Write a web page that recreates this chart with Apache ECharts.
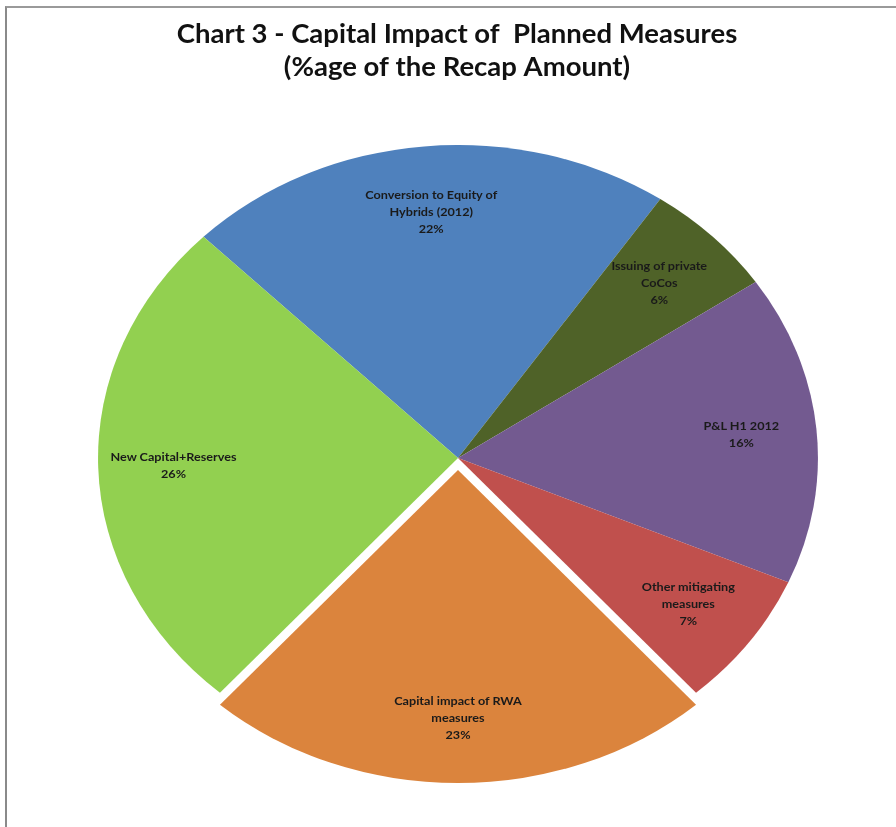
<!DOCTYPE html>
<html>
<head>
<meta charset="utf-8">
<script src="https://cdn.jsdelivr.net/npm/echarts@6/dist/echarts.min.js"></script>
<style>
  html, body { margin: 0; padding: 0; background: #ffffff; }
  #wrap { position: relative; width: 896px; height: 827px; overflow: hidden; background: #fff; }
  #frame { position: absolute; left: 5px; top: 6px; width: 895px; height: 825px;
           border-top: 2px solid #9a9a9a; border-left: 2px solid #8a8a8a; box-sizing: border-box; }
  #titleChart { position: absolute; left: 9px; top: 0; width: 896px; height: 120px; }
  #pieChart { position: absolute; left: 108px; top: 108px; width: 700px; height: 700px;
              transform: scaleX(1.15); transform-origin: 350px 350px; }
</style>
</head>
<body>
<div id="wrap">
  <div id="frame"></div>
  <div id="titleChart"></div>
  <div id="pieChart"></div>
</div>
<script>
// ---- data ----
const titleLines = ['Chart 3 - Capital Impact of  Planned Measures', '(%age of the Recap Amount)'];
const categories = [
  'Conversion to Equity of\nHybrids (2012)',
  'Issuing of private\nCoCos',
  'P&L H1 2012',
  'Other mitigating\nmeasures',
  'Capital impact of RWA\nmeasures',
  'New Capital+Reserves'
];
const values = [22, 6, 16, 7, 23, 26];
const colors = ['#4F81BD', '#4F6228', '#735A90', '#C0504D', '#DB843D', '#92D050'];
const explodedCategory = 'Capital impact of RWA\nmeasures';

// ---- title chart ----
const tChart = echarts.init(document.getElementById('titleChart'));
tChart.setOption({
  animation: false,
  title: {
    text: titleLines.join('\n'),
    left: 'center',
    top: 13,
    textStyle: { fontFamily: 'Lato', fontWeight: 'bold', fontSize: 27.5, lineHeight: 33, color: '#111' }
  }
});

// ---- pie chart ----
const pieData = categories.map((c, i) => ({
  name: c,
  value: values[i],
  selected: c === explodedCategory,
  itemStyle: { color: colors[i] }
}));
const labelData = categories.map((c, i) => ({
  name: c,
  value: values[i],
  selected: c === explodedCategory
}));

const pChart = echarts.init(document.getElementById('pieChart'), null, { renderer: 'svg' });
pChart.setOption({
  animation: false,
  series: [
    {
      type: 'pie',
      center: [350, 350],
      radius: [0, 313],
      startAngle: 135,
      clockwise: true,
      selectedMode: 'single',
      selectedOffset: 12,
      avoidLabelOverlap: false,
      silent: true,
      label: { show: false },
      labelLine: { show: false },
      emphasis: { disabled: true },
      itemStyle: { borderWidth: 0 },
      data: pieData
    },
    {
      type: 'pie',
      center: [350, 350],
      radius: [176, 313],
      startAngle: 135,
      clockwise: true,
      selectedMode: 'single',
      selectedOffset: 12,
      avoidLabelOverlap: false,
      silent: true,
      itemStyle: { color: 'rgba(0,0,0,0)', borderWidth: 0 },
      label: {
        show: true,
        position: 'inside',
        formatter: '{b}\n{c}%',
        fontFamily: 'Lato',
        fontWeight: 'bold',
        fontSize: 11,
        lineHeight: 17,
        color: '#1a1a1a',
        align: 'center'
      },
      labelLine: { show: false },
      emphasis: { disabled: true },
      data: labelData
    }
  ]
});
</script>
</body>
</html>
